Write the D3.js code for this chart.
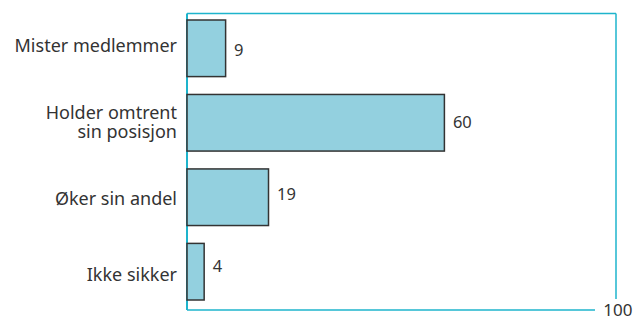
<!DOCTYPE html>
<html><head><meta charset="utf-8">
<script src="https://cdn.jsdelivr.net/npm/d3@7/dist/d3.min.js"></script>
<style>body{margin:0;background:#fff;} svg{display:block;}</style>
</head><body>
<svg id="c" width="634" height="335"></svg>
<script>
const categories = [["Mister medlemmer"], ["Holder omtrent", "sin posisjon"], ["Øker sin andel"], ["Ikke sikker"]];
const values = [9, 60, 19, 4];
const xMax = 100;
const xTickLabels = ["100"];

const svg = d3.select("#c");
const L = 187, R = 616, T = 13.5, B = 310;
const x = d3.scaleLinear().domain([0, xMax]).range([L, R]);
const keys = categories.map(c => c.join(" "));
const y = d3.scaleBand().domain(keys).range([20, 300]).paddingInner(0.24).paddingOuter(0);
const yLab = d3.scalePoint().domain(keys).range([45.5, 274.7]);
const yVal = d3.scalePoint().domain(keys).range([49.7, 266]);
const cyan = "#1eb4cc";
const font = "'Noto Sans', 'Open Sans', sans-serif";
const ink = "#333";

// frame
const g = svg.append("g");
g.append("line").attr("x1", L).attr("x2", R).attr("y1", T).attr("y2", T).attr("stroke", cyan).attr("stroke-width", 1.5);
g.append("line").attr("x1", R).attr("x2", R).attr("y1", T).attr("y2", 299).attr("stroke", cyan).attr("stroke-width", 1.5);
g.append("line").attr("x1", L).attr("x2", 595).attr("y1", B).attr("y2", B).attr("stroke", cyan).attr("stroke-width", 1.5);
g.append("line").attr("x1", L).attr("x2", L).attr("y1", T).attr("y2", B).attr("stroke", cyan).attr("stroke-width", 2);

// x tick label
svg.append("text").attr("x", x(xMax) + 16.5).attr("y", B + 6)
  .attr("text-anchor", "end").attr("font-family", font).attr("font-size", 17).attr("fill", ink)
  .text(xTickLabels[0]);

// bars
svg.selectAll("rect.bar").data(values).join("rect")
  .attr("x", x(0)).attr("y", (d, i) => y(keys[i]))
  .attr("width", d => x(d) - x(0)).attr("height", y.bandwidth())
  .attr("fill", "#93d0df").attr("stroke", ink).attr("stroke-width", 1.5);

// value labels
svg.selectAll("text.val").data(values).join("text")
  .attr("x", d => x(d) + 8.5).attr("y", (d, i) => yVal(keys[i]))
  .attr("dy", "0.36em")
  .attr("font-family", font).attr("font-size", 16.5).attr("fill", ink)
  .text(d => d);

// category labels
categories.forEach((lines, i) => {
  const t = svg.append("text").attr("text-anchor", "end")
    .attr("font-family", font).attr("font-size", 18).attr("fill", ink);
  const c = yLab(keys[i]);
  const lh = 19;
  const start = c - (lines.length - 1) * lh / 2;
  lines.forEach((s, j) => {
    t.append("tspan").attr("x", 177).attr("y", start + j * lh).attr("dy", "0.36em").text(s);
  });
});
</script>
</body></html>
